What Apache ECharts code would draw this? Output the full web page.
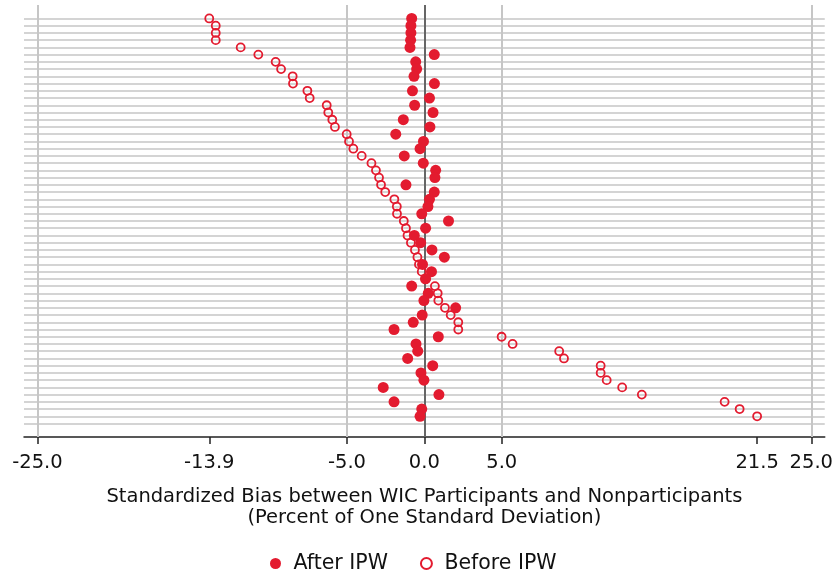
<!DOCTYPE html>
<html>
<head>
<meta charset="utf-8">
<script src="https://cdn.jsdelivr.net/npm/echarts@6/dist/echarts.min.js"></script>
<style>
html, body { margin: 0; padding: 0; background: #fff; }
#container { width: 836px; height: 573px; }
</style>
</head>
<body>
<div id="container"></div>
<script>
let chart = echarts.init(document.getElementById('container'));

// covariate rows, top to bottom
let rows = [1, 2, 3, 4, 5, 6, 7, 8, 9, 10, 11, 12, 13, 14, 15, 16, 17, 18, 19, 20,
    21, 22, 23, 24, 25, 26, 27, 28, 29, 30, 31, 32, 33, 34, 35, 36, 37, 38, 39, 40,
    41, 42, 43, 44, 45, 46, 47, 48, 49, 50, 51, 52, 53, 54, 55, 56];
// one grey line per row (plus an empty last one, as in the original)
let gridRows = [1, 2, 3, 4, 5, 6, 7, 8, 9, 10, 11, 12, 13, 14, 15, 16, 17, 18, 19, 20,
    21, 22, 23, 24, 25, 26, 27, 28, 29, 30, 31, 32, 33, 34, 35, 36, 37, 38, 39, 40,
    41, 42, 43, 44, 45, 46, 47, 48, 49, 50, 51, 52, 53, 54, 55, 56, 57];

let afterIPW = [-0.82, -0.87, -0.87, -0.89, -0.93, 0.64, -0.56, -0.50, -0.67, 0.65,
    -0.77, 0.33, -0.63, 0.56, -1.36, 0.36, -1.85, -0.06, -0.28, -1.30,
    -0.07, 0.73, 0.68, -1.19, 0.64, 0.33, 0.23, -0.17, 1.56, 0.08,
    -0.65, -0.24, 0.49, 1.29, -0.12, 0.46, 0.07, -0.82, 0.25, -0.03,
    2.02, -0.14, -0.72, -1.96, 0.90, -0.54, -0.43, -1.08, 0.54, -0.22,
    -0.03, -2.66, 0.94, -1.96, -0.17, -0.28];

let beforeIPW = [-13.9, -13.48, -13.48, -13.48, -11.87, -10.73, -9.61, -9.26, -8.51, -8.49,
    -7.56, -7.41, -6.31, -6.21, -5.95, -5.78, -5.02, -4.87, -4.59, -4.05,
    -3.42, -3.13, -2.93, -2.80, -2.53, -1.94, -1.78, -1.77, -1.33, -1.19,
    -1.09, -0.87, -0.61, -0.45, -0.35, -0.17, 0.10, 0.68, 0.86, 0.90,
    1.33, 1.70, 2.19, 2.19, 4.99, 5.70, 8.71, 9.02, 11.39, 11.39,
    11.78, 12.78, 14.05, 19.40, 20.37, 21.5];

let xTicks = [-25, -13.9, -5, 0, 5, 21.5, 25];
let xGridLines = [-25, -5, 5, 25];

let red = '#e31b2f';
let font = 'DejaVu Sans';

var option = {
    animation: false,
    backgroundColor: '#fff',
    grid: {
        left: 24,
        right: 11,
        top: 5,
        bottom: 136,
    },
    legend: {
        data: ['After IPW', 'Before IPW'],
        left: 265,
        top: 548,
        itemWidth: 26,
        itemHeight: 11,
        itemGap: 32,
        textStyle: { fontFamily: font, fontSize: 20.5, color: '#111' },
    },
    xAxis: {
        type: 'value',
        min: -25.87,
        max: 25.87,
        name: 'Standardized Bias between WIC Participants and Nonparticipants\n(Percent of One Standard Deviation)',
        nameLocation: 'middle',
        nameGap: 49,
        nameTextStyle: { fontFamily: font, fontSize: 19.5, lineHeight: 21, color: '#111' },
        axisLine: { show: true, onZero: false, lineStyle: { color: '#222', width: 1.5 } },
        axisTick: {
            show: true,
            customValues: xTicks,
            length: 7,
            lineStyle: { color: '#222', width: 1.5 },
        },
        axisLabel: {
            customValues: xTicks,
            formatter: v => v.toFixed(1),
            fontFamily: font,
            fontSize: 19.5,
            color: '#111',
            margin: 16,
        },
        splitLine: { show: false },
    },
    yAxis: {
        type: 'value',
        inverse: true,
        min: -0.86,
        max: 58.86,
        axisLine: { show: false },
        axisTick: { show: false },
        axisLabel: { show: false },
        splitLine: { show: false },
    },
    series: [
        {
            // grid lines only
            name: 'grid',
            type: 'scatter',
            data: [],
            z: 1,
            markLine: {
                z: 1,
                silent: true,
                symbol: 'none',
                label: { show: false },
                animation: false,
                data: gridRows.map(r => ({ yAxis: r, lineStyle: { color: '#c6c6c6', width: 1.7, type: 'solid' } }))
                    .concat(xGridLines.map(v => ({ xAxis: v, lineStyle: { color: '#c6c6c6', width: 2, type: 'solid' } })))
                    .concat([{ xAxis: 0, lineStyle: { color: '#666', width: 2, type: 'solid' } }]),
            },
        },
        {
            name: 'Before IPW',
            type: 'scatter',
            z: 10,
            symbol: 'circle',
            symbolSize: 8,
            itemStyle: { color: 'rgba(255,255,255,0)', borderColor: red, borderWidth: 1.8, opacity: 1 },
            data: rows.map((r, i) => [beforeIPW[i], r]),
        },
        {
            name: 'After IPW',
            type: 'scatter',
            z: 11,
            symbol: 'circle',
            symbolSize: 11,
            itemStyle: { color: red, opacity: 1 },
            data: rows.map((r, i) => [afterIPW[i], r]),
        },
    ],
};

chart.setOption(option);
</script>
</body>
</html>
